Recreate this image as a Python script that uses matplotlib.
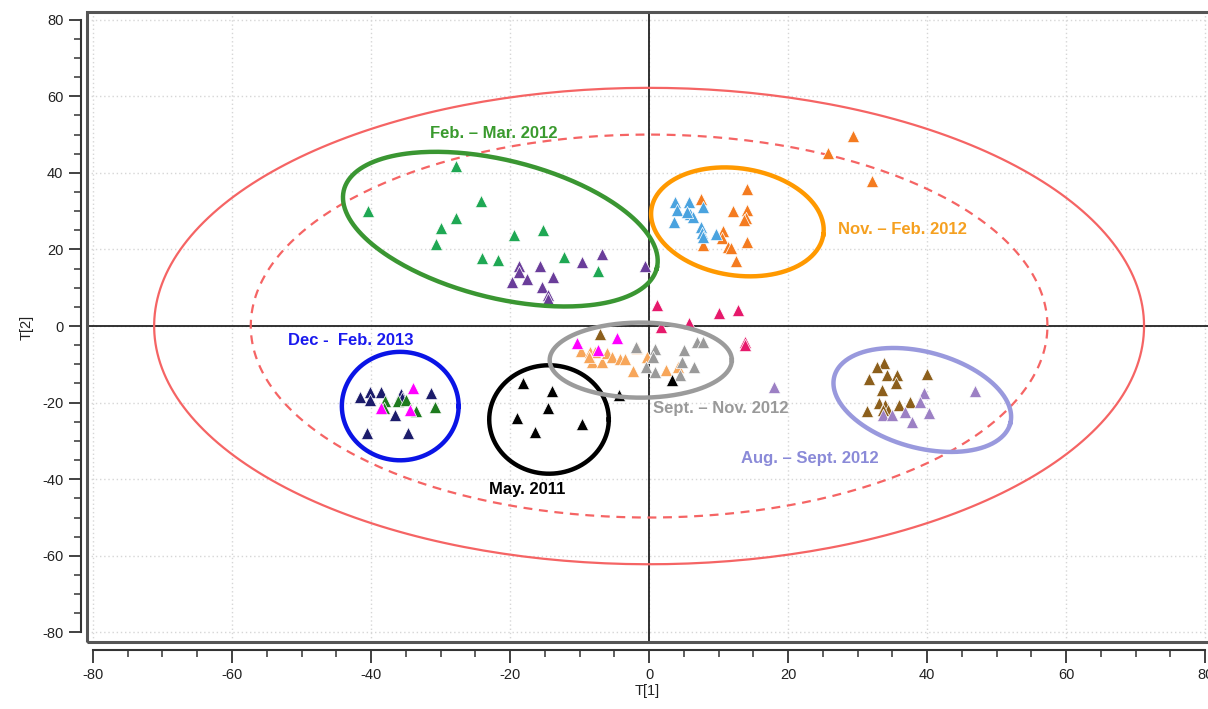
import matplotlib
matplotlib.use("Agg")
import matplotlib.pyplot as plt
import numpy as np
from matplotlib.patches import Rectangle
from matplotlib.ticker import MultipleLocator

# ---- data (T[1], T[2]) per group ----
feb_mar_x = [-27.8, -40.4, -24.2, -27.8, -29.9, -30.6, -19.5, -15.2, -24.0, -21.8, -12.3, -7.3]
feb_mar_y = [41.8, 30.1, 32.6, 28.1, 25.5, 21.3, 23.8, 25.2, 17.7, 17.2, 18.1, 14.4]
purple_x = [-18.7, -18.7, -19.7, -17.6, -15.7, -13.8, -15.4, -14.5, -14.5, -9.6, -6.8, -0.6]
purple_y = [15.7, 14.0, 11.4, 12.4, 15.7, 12.9, 10.2, 8.1, 7.0, 16.6, 18.8, 15.7]
orange_x = [29.4, 25.7, 32.1, 14.1, 7.5, 12.0, 14.1, 14.0, 13.7, 10.7, 10.5, 11.3, 11.8, 7.8, 14.1, 12.5]
orange_y = [49.6, 45.1, 37.9, 35.7, 33.1, 30.1, 30.3, 28.1, 27.7, 24.8, 22.9, 20.7, 20.3, 21.1, 21.9, 17.1]
blue_x = [3.7, 5.7, 7.7, 4.0, 5.9, 6.3, 3.6, 7.4, 7.6, 7.8, 9.6, 5.4]
blue_y = [32.5, 32.3, 31.0, 30.3, 29.2, 28.5, 27.2, 25.9, 24.2, 23.2, 24.0, 29.8]
crimson_x = [1.2, 1.7, 5.7, 10.1, 12.8, 13.8, 13.8]
crimson_y = [5.5, -0.2, 0.7, 3.3, 4.2, -4.1, -5.0]
navy_x = [-41.6, -40.2, -40.1, -38.6, -35.7, -35.6, -31.4, -36.5, -40.6, -34.7]
navy_y = [-18.6, -17.2, -19.3, -17.2, -17.8, -18.9, -17.4, -23.2, -28.0, -28.0]
dkgreen_x = [-38.0, -36.1, -35.0, -33.5, -30.8, -38.1]
dkgreen_y = [-19.6, -19.6, -19.3, -22.1, -21.1, -21.5]
magenta_x = [-34.0, -38.5, -34.4, -10.3, -4.6, -7.3]
magenta_y = [-16.3, -21.5, -21.9, -4.5, -3.2, -6.3]
black_x = [-18.1, -13.9, -14.5, -19.0, -9.7, -16.4, -4.3, 3.3]
black_y = [-15.0, -17.0, -21.5, -24.1, -25.6, -27.6, -18.0, -14.1]
ltorange_x = [-9.8, -8.5, -8.2, -6.8, -6.1, -5.4, -4.2, -3.5, -1.8, -2.3, -0.3, 2.4, 4.1, -7.8, -8.7]
ltorange_y = [-6.5, -6.9, -9.5, -9.5, -7.1, -8.0, -8.6, -8.6, -5.8, -11.7, -8.0, -11.5, -10.6, -6.7, -8.0]
gray_x = [-1.9, 0.9, 0.6, -0.4, 0.9, 5.0, 6.9, 7.7, 4.8, 6.5, 4.5]
gray_y = [-5.4, -6.1, -8.0, -10.6, -11.9, -6.3, -4.1, -4.1, -9.5, -10.6, -12.8]
brown_x = [-7.1, 33.8, 32.8, 31.7, 34.2, 35.6, 35.5, 33.5, 40.0, 31.3, 33.1, 34.0, 34.4, 35.9, 37.6, 33.6]
brown_y = [-2.2, -9.6, -10.6, -13.7, -12.8, -12.8, -15.0, -16.7, -12.6, -22.1, -20.2, -20.6, -21.9, -20.6, -19.8, -21.9]
lavender_x = [18.0, 46.9, 39.5, 39.0, 36.8, 37.8, 40.2, 33.7, 34.9]
lavender_y = [-16.0, -17.0, -17.6, -19.8, -22.4, -25.0, -22.8, -23.2, -23.2]

groups = [
    (feb_mar_x, feb_mar_y, '#1fa854'),
    (purple_x, purple_y, '#6a3d9a'),
    (orange_x, orange_y, '#f47b20'),
    (blue_x, blue_y, '#4aa3df'),
    (crimson_x, crimson_y, '#e6196b'),
    (ltorange_x, ltorange_y, '#f7a65a'),
    (gray_x, gray_y, '#9a9a9a'),
    (brown_x, brown_y, '#8c5f1c'),
    (lavender_x, lavender_y, '#9c80c4'),
    (navy_x, navy_y, '#1c1c6b'),
    (dkgreen_x, dkgreen_y, '#1e7b1e'),
    (magenta_x, magenta_y, '#ff00ff'),
    (black_x, black_y, '#000000'),
]

# group ellipses: centre, semi-axes (in T[1] units on screen), angle, colour
ellipses = [
    ((-21.4, 25.3), 23.2, 9.9, -14, '#3a9632'),
    ((12.7, 27.2), 12.5, 7.7, -8.5, '#ff9900'),
    ((-35.8, -20.9), 8.4, 7.8, 0, '#0a14e6'),
    ((-14.4, -24.4), 8.6, 7.8, 0, '#000000'),
    ((-1.2, -8.9), 13.1, 5.4, 0, '#9b9b9b'),
    ((39.3, -19.3), 13.1, 6.9, -15, '#9999dd'),
]

labels = [
    ('Feb. – Mar. 2012', -22.4, 50.4, 'center', '#3a9a2e'),
    ('Nov. – Feb. 2012', 27.2, 25.1, 'left', '#f5a020'),
    ('Dec -  Feb. 2013', -51.9, -3.7, 'left', '#1a1aee'),
    ('May. 2011', -17.6, -42.8, 'center', '#000000'),
    ('Sept. – Nov. 2012', 0.6, -21.4, 'left', '#999999'),
    ('Aug. – Sept. 2012', 13.2, -34.5, 'left', '#8a8ad8'),
]

# Hotelling T2 ellipses
t2_99 = (71.2, 62.2)
t2_95 = (57.3, 50.0)

plt.rcParams['font.family'] = ['Liberation Sans', 'DejaVu Sans']
plt.rcParams['axes.unicode_minus'] = False

fig = plt.figure(figsize=(12.08, 7.09), dpi=100)
W, H = 1208, 709
ax = fig.add_axes([87 / W, (H - 642) / H, (W - 87) / W, 630 / H])
xlim = (-80.86, 80.4)
ylim = (-82.5, 82.0)
ax.set_xlim(*xlim)
ax.set_ylim(*ylim)

kx = (W - 87) / (xlim[1] - xlim[0])
ky = 630 / (ylim[1] - ylim[0])

for v in range(-80, 81, 20):
    ax.axvline(v, color='#d6d6d6', lw=1, ls=(0, (1, 2)), zorder=0)
    ax.axhline(v, color='#d6d6d6', lw=1, ls=(0, (1, 2)), zorder=0)
ax.axvline(0, color='#222222', lw=1.3, zorder=1)
ax.axhline(0, color='#222222', lw=1.3, zorder=1)

t = np.linspace(0, 2 * np.pi, 300)
ax.plot(t2_99[0] * np.cos(t), t2_99[1] * np.sin(t), color='#f56464', lw=1.6, zorder=2)
ax.plot(t2_95[0] * np.cos(t), t2_95[1] * np.sin(t), color='#f56464', lw=1.6,
        ls=(0, (4, 3)), zorder=2)

for xs, ys, c in groups:
    ax.scatter(xs, ys, marker='^', s=78, color=c, linewidths=0.5,
               edgecolors='white', zorder=4)

for (cx, cy), a, b, ang, c in ellipses:
    th = np.radians(ang)
    u, v = a * np.cos(t), b * np.sin(t)
    X = u * np.cos(th) - v * np.sin(th)
    Y = (u * np.sin(th) + v * np.cos(th)) * kx / ky
    ax.plot(cx + X, cy + Y, color=c, lw=3.2, zorder=5)

for txt, x, y, ha, c in labels:
    ax.text(x, y, txt, ha=ha, va='center', color=c, fontsize=12,
            fontweight='bold', zorder=6)

# frame
ax.add_patch(Rectangle((0, 0), 1.05, 1, transform=ax.transAxes, fill=False,
                       ec='#555555', lw=2.2, clip_on=False, zorder=7))

for s in ['top', 'right']:
    ax.spines[s].set_visible(False)
ax.spines['left'].set_position(('outward', 4.5))
ax.spines['bottom'].set_position(('outward', 6))
ax.spines['left'].set_bounds(-80, 80)
ax.spines['bottom'].set_bounds(-80, 80)
for s in ['left', 'bottom']:
    ax.spines[s].set_linewidth(1.5)
    ax.spines[s].set_color('#333333')

ax.xaxis.set_major_locator(MultipleLocator(20))
ax.xaxis.set_minor_locator(MultipleLocator(5))
ax.yaxis.set_major_locator(MultipleLocator(20))
ax.yaxis.set_minor_locator(MultipleLocator(5))
ax.tick_params(which='major', length=9, width=1.3, color='#333333',
               labelsize=10.5, labelcolor='#222222')
ax.tick_params(which='minor', length=5, width=1.1, color='#333333')
ax.set_xlabel('T[1]', fontsize=10.5, labelpad=2, color='#222222')
ax.set_ylabel('T[2]', fontsize=10.5, labelpad=6, color='#222222')

fig.savefig('out.png', dpi=100)
